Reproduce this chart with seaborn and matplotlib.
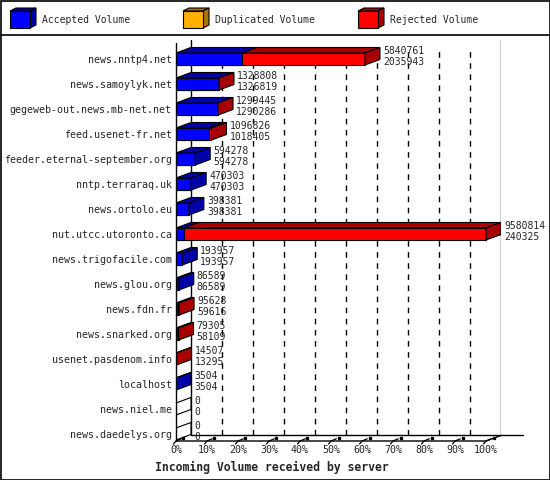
import numpy as np
import seaborn as sns
import matplotlib.pyplot as plt
from matplotlib.patches import Polygon, Rectangle

servers = ["news.nntp4.net", "news.samoylyk.net", "gegeweb-out.news.mb-net.net",
           "feed.usenet-fr.net", "feeder.eternal-september.org", "nntp.terraraq.uk",
           "news.ortolo.eu", "nut.utcc.utoronto.ca", "news.trigofacile.com",
           "news.glou.org", "news.fdn.fr", "news.snarked.org", "usenet.pasdenom.info",
           "localhost", "news.niel.me", "news.daedelys.org"]
total = [5840761, 1328808, 1299445, 1096826, 594278, 470303, 398381, 9580814,
         193957, 86589, 95628, 79305, 14507, 3504, 0, 0]
accepted = [2035943, 1326819, 1290286, 1018405, 594278, 470303, 398381, 240325,
            193957, 86589, 59616, 58109, 13295, 3504, 0, 0]
ticks = [f"{p}%" for p in range(0, 101, 10)]

BLUE, DBLUE = "#0000ff", "#0000a8"
RED, DRED = "#ff0000", "#a80000"
ORANGE, DORANGE = "#ffb000", "#a87400"

sns.set_theme(style="white")
plt.rcParams["font.family"] = ["DejaVu Sans Mono"]
FS = 7.2

total_pct = np.array(total) / max(total) * 100
acc_pct = np.array(accepted) / max(total) * 100

fig = plt.figure(figsize=(5.5, 4.8), dpi=100)

# background layer in pixel coords: border, legend, axis title
lax = fig.add_axes([0, 0, 1, 1], zorder=0)
lax.set_xlim(0, 550)
lax.set_ylim(480, 0)
lax.axis("off")
lax.add_patch(Rectangle((0.5, 0.5), 549, 479, fill=False, lw=1.2, ec="black"))
lax.plot([0, 550], [35, 35], color="black", lw=1.2)
for x0, label, c, dc in [(10, "Accepted Volume", BLUE, DBLUE),
                         (183, "Duplicated Volume", ORANGE, DORANGE),
                         (358, "Rejected Volume", RED, DRED)]:
    lax.add_patch(Polygon([(x0, 11), (x0 + 6, 8), (x0 + 26, 8), (x0 + 20, 11)],
                          fc=dc, ec="black", lw=0.8))
    lax.add_patch(Polygon([(x0 + 20, 11), (x0 + 26, 8), (x0 + 26, 25), (x0 + 20, 28)],
                          fc=dc, ec="black", lw=0.8))
    lax.add_patch(Rectangle((x0, 11), 20, 17, fc=c, ec="black", lw=0.8))
    lax.text(x0 + 32, 20, label, va="center", ha="left", fontsize=7)
lax.text(155, 467, "Incoming Volume received by server", fontsize=8.3,
         fontweight="bold", va="center", ha="left")

ax = fig.add_axes([176 / 550, 1 - 441 / 480, 325 / 550, 401 / 480], zorder=1)
ax.set_facecolor("none")

h = 0.48
dx = 15 / 3.11
dy = 0.22

sns.barplot(x=total_pct, y=servers, orient="h", color=RED, saturation=1,
            width=h, edgecolor="black", linewidth=0.8, ax=ax, zorder=3)
sns.barplot(x=acc_pct, y=servers, orient="h", color=BLUE, saturation=1,
            width=h, edgecolor="black", linewidth=0.8, ax=ax, zorder=4)

ytop, ybot = -0.76, 15.28
ax.set_xlim(0, 100 + dx)
ax.set_ylim(ybot, ytop)

# back wall grid
for p in range(10, 100, 10):
    ax.plot([p + dx, p + dx], [ybot - dy, ytop + 0.36], color="black", lw=1,
            ls=(0, (4, 4)), zorder=1)
for xw in (dx, 100 + dx):
    ax.plot([xw, xw], [ybot - dy, ytop], color="black", lw=1, zorder=1)
ax.plot([0, 0], [ytop + 0.12, ybot], color="black", lw=1, zorder=5, clip_on=False)

# floor
ax.plot([0, 100, 100 + dx], [ybot, ybot, ybot - dy], color="black", lw=1,
        zorder=5, clip_on=False)
ax.plot([dx, 112], [ybot - dy, ybot - dy], color="black", lw=1, zorder=1, clip_on=False)
for p in range(0, 101, 10):
    ax.plot([p - 0.8, p, p + dx * 0.35], [ybot + 0.12, ybot, ybot - dy * 0.4],
            color="black", lw=0.9, zorder=5, clip_on=False)
    ax.plot([p + dx * 0.5], [ybot - dy * 0.55], marker="s", ms=2, color="black",
            zorder=5, clip_on=False)

# 3D faces and value labels
for i, (t, a) in enumerate(zip(total_pct, acc_pct)):
    top, bot = i - h / 2, i + h / 2
    if t == 0:
        ax.add_patch(Polygon([(0, top), (dx, top - dy), (dx, bot - dy), (0, bot)],
                             fc="white", ec="black", lw=0.8, zorder=4))
    else:
        for s0, s1, c in [(0, a, DBLUE), (a, t, DRED)]:
            if s1 > s0:
                ax.add_patch(Polygon([(s0, top), (s0 + dx, top - dy),
                                      (s1 + dx, top - dy), (s1, top)],
                                     fc=c, ec="black", lw=0.8, zorder=4))
        side = DRED if t > a else DBLUE
        ax.add_patch(Polygon([(t, top), (t + dx, top - dy), (t + dx, bot - dy), (t, bot)],
                             fc=side, ec="black", lw=0.8, zorder=4))
    ax.text(t + dx + 1.0, i - 0.1, f"{total[i]}\n{accepted[i]}", fontsize=7,
            va="center", ha="left", linespacing=1.1, zorder=6, clip_on=False)

ax.set_xticks(range(0, 101, 10))
ax.set_xticklabels(ticks, fontsize=FS)
ax.tick_params(axis="x", length=0, pad=3)
ax.tick_params(axis="y", length=0, pad=3, labelsize=FS)
ax.set_xlabel("")
ax.set_ylabel("")
for sp in ax.spines.values():
    sp.set_visible(False)

fig.savefig("out.png", dpi=100)
